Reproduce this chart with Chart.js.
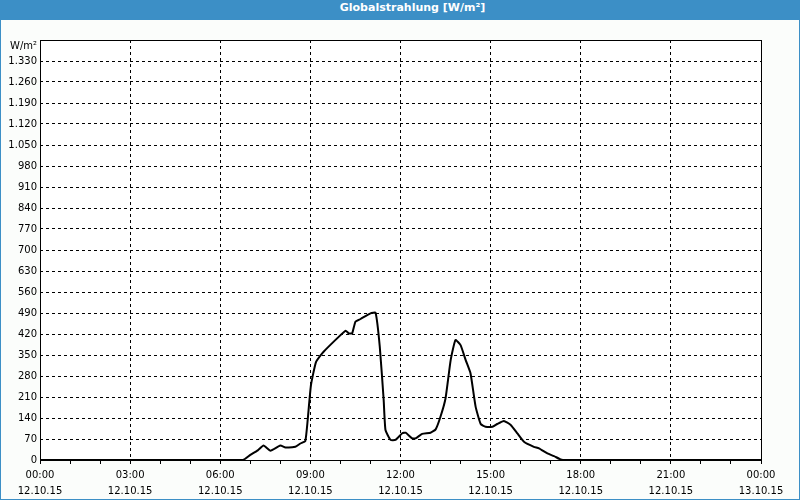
<!DOCTYPE html>
<html>
<head>
<meta charset="utf-8">
<script src="https://cdn.jsdelivr.net/npm/chart.js@4.4.1/dist/chart.umd.min.js"></script>
<style>
    body { margin: 0; background: #fff; }
    #frame { width: 798px; height: 498px; border: 1px solid #3c8fc6; background: #fbfdfb; }
    #head { height: 19px; line-height: 20px; background: #3c8fc6; color: #fff; text-align: center;
            padding-left: 25px; box-sizing: border-box; font: bold 11px "DejaVu Sans", sans-serif; }
    #box { position: relative; width: 798px; height: 479px; }
</style>
</head>
<body>
<div id="frame">
    <div id="head">Globalstrahlung [W/m²]</div>
    <div id="box"><canvas id="radChart"></canvas></div>
</div>
<script>
// Stunden seit 00:00 am 12.10.15 und Messwerte in W/m²
const hours = [0, 6.75, 7.0, 7.25, 7.44, 7.67, 8.0, 8.17, 8.5, 8.67, 8.83, 8.91, 9.02, 9.19, 9.44,
    10.17, 10.28, 10.39, 10.5, 10.67, 11.0, 11.17, 11.31, 11.44, 11.5, 11.67, 11.83, 12.06, 12.17,
    12.39, 12.5, 12.72, 13.0, 13.17, 13.33, 13.5, 13.67, 13.83, 14.0, 14.17, 14.33, 14.5, 14.67,
    14.83, 15.06, 15.22, 15.44, 15.67, 15.89, 16.11, 16.44, 16.61, 16.89, 17.11, 17.33, 17.5, 24];
const values = [0, 0, 17, 32, 48, 31, 48, 42, 44, 55, 63, 133, 250, 327, 361,
    431, 422, 422, 461, 470, 489, 491, 378, 200, 100, 67, 67, 89, 91,
    72, 72, 87, 91, 102, 144, 206, 333, 400, 383, 333, 289, 178, 120,
    111, 111, 120, 130, 117, 89, 61, 44, 39, 22, 13, 2, 0, 0];

const timeLabels = ['00:00', '03:00', '06:00', '09:00', '12:00', '15:00', '18:00', '21:00', '00:00'];
const dateLabels = ['12.10.15', '12.10.15', '12.10.15', '12.10.15', '12.10.15', '12.10.15', '12.10.15', '12.10.15', '13.10.15'];
const yMax = 1400;
const yStep = 70;
const yUnit = 'W/m²';

function formatDe(v) {
    return String(v).replace(/\B(?=(\d{3})+(?!\d))/g, '.');
}

// Rahmen um die Zeichenfläche + Einheit oben links
const frameBox = {
    id: 'frameBox',
    afterDraw(chart) {
        const { ctx, chartArea: a } = chart;
        ctx.save();
        ctx.strokeStyle = '#000';
        ctx.lineWidth = 1;
        ctx.strokeRect(a.left + 0.5, a.top + 0.5, a.right - a.left, a.bottom - a.top);
        ctx.fillStyle = '#000';
        ctx.font = '10px "DejaVu Sans"';
        ctx.textAlign = 'right';
        ctx.textBaseline = 'middle';
        ctx.fillText(yUnit, a.left - 3, a.top + 6);
        ctx.restore();
    }
};

const plotBg = {
    id: 'plotBg',
    beforeDraw(chart) {
        const { ctx, chartArea: a } = chart;
        ctx.save();
        ctx.fillStyle = '#ffffff';
        ctx.fillRect(a.left, a.top, a.right - a.left, a.bottom - a.top);
        ctx.restore();
    }
};

const ctx = document.getElementById('radChart').getContext('2d');
new Chart(ctx, {
    type: 'line',
    data: {
        datasets: [{
            data: hours.map((h, i) => ({ x: h, y: values[i] })),
            borderColor: '#000',
            borderWidth: 2,
            pointRadius: 0,
            tension: 0.15,
            fill: false
        }]
    },
    options: {
        responsive: true,
        maintainAspectRatio: false,
        animation: false,
        layout: { padding: { top: 20, right: 38, left: 0, bottom: 0 } },
        plugins: { legend: { display: false }, tooltip: { enabled: false } },
        scales: {
            x: {
                type: 'linear',
                min: 0,
                max: 24,
                border: { display: false, dash: [3, 3] },
                afterFit: function(scale) { scale.height = 39; },
                grid: {
                    color: c => {
                        const v = c.tick ? c.tick.value : -1;
                        return (v % 3 === 0 && v > 0 && v < 24) ? '#000' : 'rgba(0,0,0,0)';
                    },
                    tickColor: '#000',
                    tickBorderDash: [],
                    tickLength: 4,
                    drawTicks: true
                },
                ticks: {
                    stepSize: 1,
                    autoSkip: false,
                    maxRotation: 0,
                    padding: 3,
                    color: '#000',
                    font: { family: 'DejaVu Sans', size: 10, lineHeight: 1.6 },
                    callback: function(v) {
                        if (v % 3 !== 0) return '';
                        const i = v / 3;
                        return [timeLabels[i], dateLabels[i]];
                    }
                }
            },
            y: {
                min: 0,
                max: yMax,
                border: { display: false, dash: [3, 3] },
                afterFit: function(scale) { scale.width = 39; },
                grid: {
                    color: c => {
                        const v = c.tick ? c.tick.value : -1;
                        return (v > 0 && v < yMax) ? '#000' : 'rgba(0,0,0,0)';
                    },
                    drawTicks: false
                },
                ticks: {
                    stepSize: yStep,
                    padding: 3,
                    color: '#000',
                    font: { family: 'DejaVu Sans', size: 10 },
                    callback: v => v === yMax ? '' : formatDe(v)
                }
            }
        }
    },
    plugins: [plotBg, frameBox]
});
</script>
</body>
</html>
